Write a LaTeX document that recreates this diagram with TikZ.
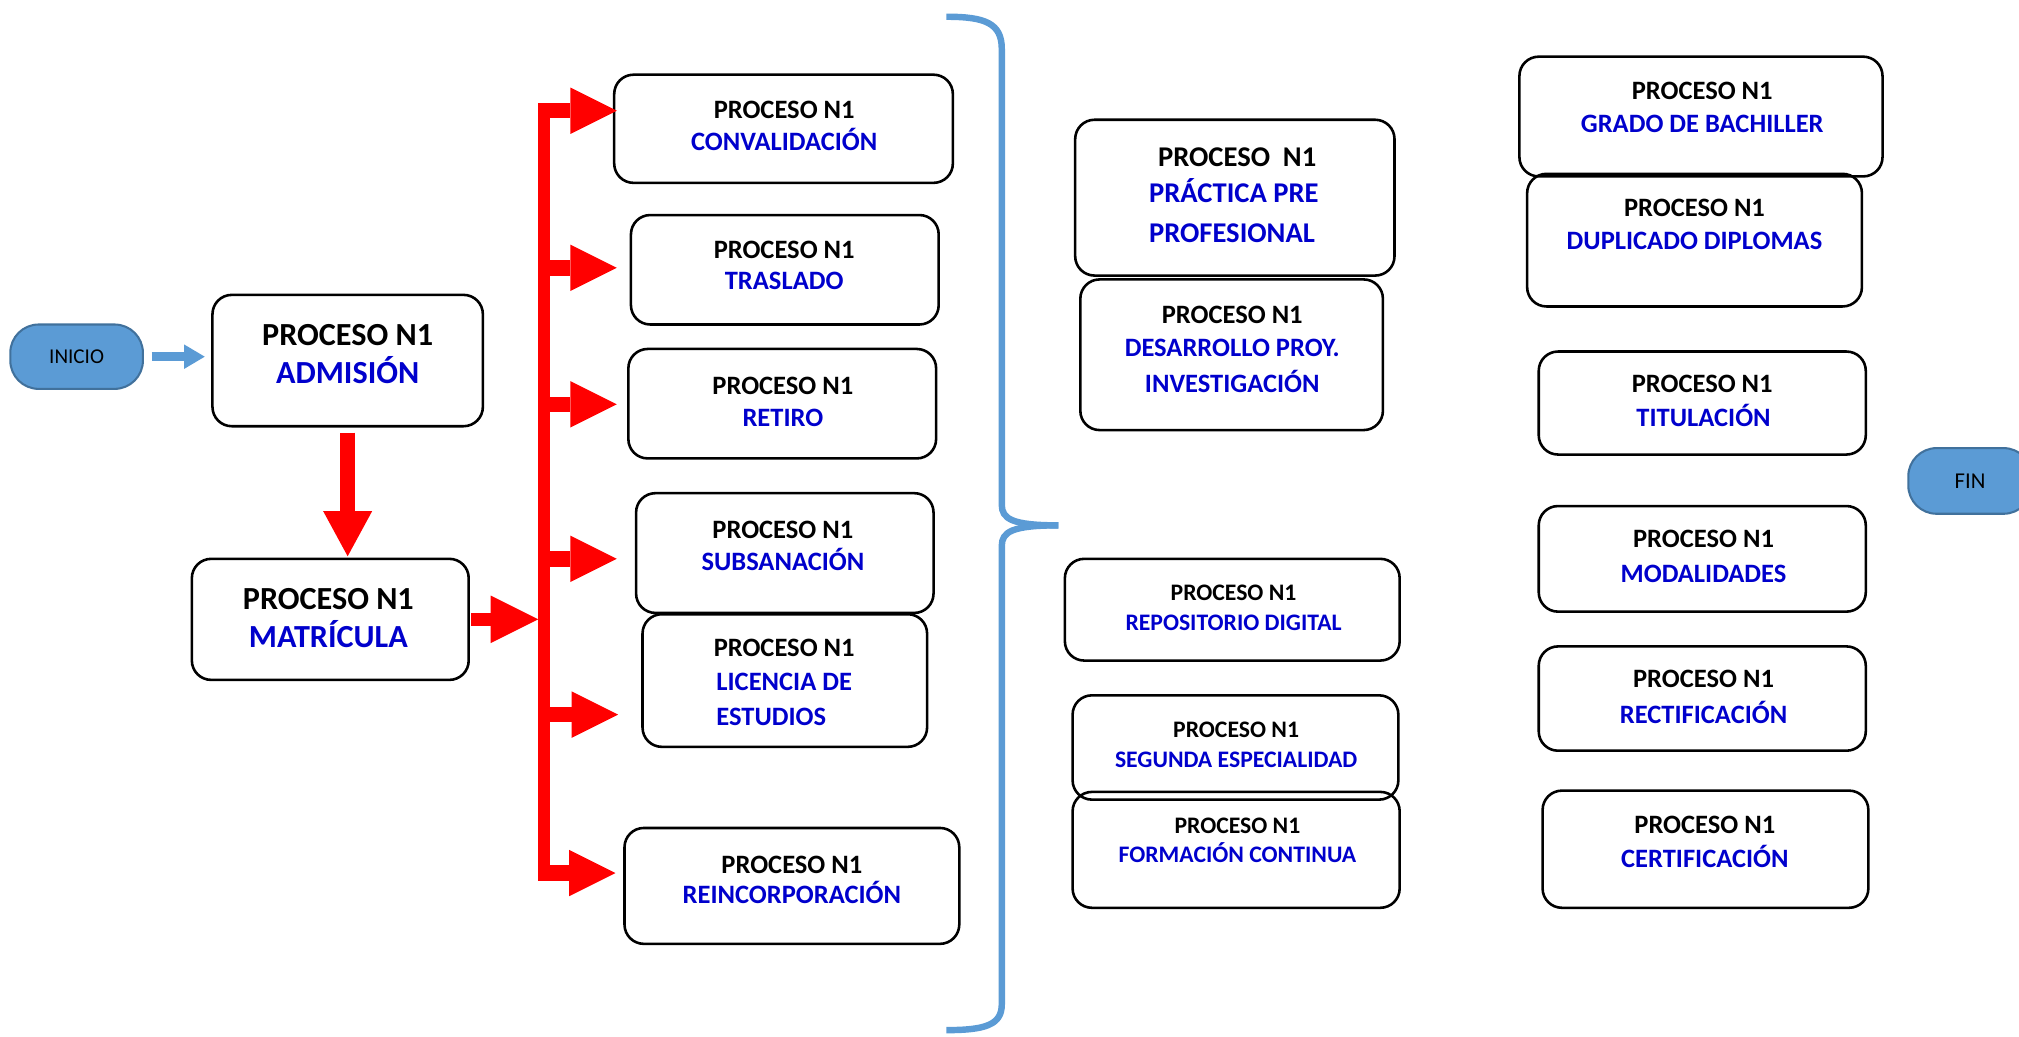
\documentclass[tikz,border=0pt]{standalone}
\usepackage{fontspec}
\setmainfont{Carlito}
\usetikzlibrary{arrows.meta}
\definecolor{tblue}{RGB}{0,0,204}
\definecolor{sblue}{RGB}{91,155,213}
\definecolor{sborder}{RGB}{65,113,156}
\definecolor{ared}{RGB}{255,0,0}
\newcommand\procbox[5]{\node[pbox,minimum width={(#4-#2)*0.5pt},minimum height={(#5-#3)*0.5pt}] (#1) at ({(#2+#4)/2},{(#3+#5)/2}) {};}
\tikzset{
  pbox/.style={draw=black, line width=1pt, rounded corners=7.5pt, inner sep=0pt},
  term/.style={draw=sborder, line width=0.8pt, fill=sblue, rounded corners=11pt, inner sep=0pt, text=black},
  tk/.style={inner sep=0pt, anchor=base, text=black},
  tb/.style={inner sep=0pt, anchor=base, text=tblue},
  fbig/.style={font=\fontsize{12.5}{15}\selectfont\bfseries},
  fmid/.style={font=\fontsize{10.3}{12.5}\selectfont\bfseries},
  fpra/.style={font=\fontsize{11.1}{13}\selectfont\bfseries},
  fsml/.style={font=\fontsize{9.2}{11}\selectfont\bfseries},
  bluearrow/.style={draw=sblue, line width=3.5pt, -{Triangle[width=9.5pt,length=8pt,line width=0pt]}},
  downarrow/.style={draw=ared, line width=6pt, -{Triangle[width=19pt,length=17.5pt,line width=0pt]}},
  matarrow/.style={draw=ared, line width=5pt, -{Triangle[width=18.5pt,length=18.5pt,line width=0pt]}},
  brancharrow/.style={draw=ared, line width=6pt, -{Triangle[width=18pt,length=18pt,line width=0pt]}},
  redbar/.style={draw=ared, line width=4.5pt},
  bracestyle/.style={draw=sblue, line width=2.5pt}
}
\begin{document}
\begin{tikzpicture}[x=0.5pt,y=-0.5pt]
\useasboundingbox (0,0) rectangle (1568,804.6);

% terminals
\node[term, font=\fontsize{8.2}{10}\selectfont, minimum width=51.5pt, minimum height=25pt] (inicio) at (59.5,277) {INICIO};
\node[term, font=\fontsize{8.8}{10}\selectfont, minimum width=48pt, minimum height=25.5pt] (fin) at (1530,373.5) {FIN};

% boxes
\procbox{adm}{165}{229}{375}{331}
\procbox{mat}{149}{434}{364}{528}
\procbox{conv}{477}{58}{740}{142}
\procbox{tras}{490}{167}{729}{252}
\procbox{ret}{488}{271}{727}{356}
\procbox{subs}{494}{383}{725}{476}
\procbox{lic}{499}{477}{720}{580}
\procbox{reinc}{485}{643}{745}{733}
\procbox{prac}{835}{93}{1083}{214}
\procbox{des}{839}{217}{1074}{334}
\procbox{repo}{827}{434}{1087}{513}
\procbox{seg}{833}{540}{1086}{621}
\procbox{form}{833}{615}{1087}{705}
\procbox{grado}{1180}{44}{1462}{137}
\procbox{dup}{1186}{135}{1446}{238}
\procbox{tit}{1195}{273}{1449}{353}
\procbox{mod}{1195}{393}{1449}{475}
\procbox{rect}{1195}{502}{1449}{583}
\procbox{cert}{1198}{614}{1451}{705}

% texts
\node[tk,fbig] (admA) at (270,268) {PROCESO N1};
\node[tb,fbig] (admB) at (270,297.5) {ADMISIÓN};
\node[tk,fbig] (matA) at (255,473) {PROCESO N1};
\node[tb,fbig] (matB) at (255,503) {MATRÍCULA};

\node[tk,fmid] (convA) at (609,92) {PROCESO N1};
\node[tb,fmid] (convB) at (609,116.5) {CONVALIDACIÓN};
\node[tk,fmid] (trasA) at (609,200.6) {PROCESO N1};
\node[tb,fmid] (trasB) at (609,225) {TRASLADO};
\node[tk,fmid] (retA) at (608,306) {PROCESO N1};
\node[tb,fmid] (retB) at (608,331) {RETIRO};
\node[tk,fmid] (subsA) at (608,418) {PROCESO N1};
\node[tb,fmid] (subsB) at (608,442.7) {SUBSANACIÓN};
\node[tk,fmid] (licA) at (609,510) {PROCESO N1};
\node[tb,fmid,anchor=base west] (licB) at (556,536.6) {LICENCIA DE};
\node[tb,fmid,anchor=base west] (licC) at (556,563.5) {ESTUDIOS};
\node[tk,fmid] (reincA) at (615,678) {PROCESO N1};
\node[tb,fmid] (reincB) at (615,702) {REINCORPORACIÓN};

\node[tk,fpra,anchor=base west] (pracA) at (899,129.5) {PROCESO\ \ N1};
\node[tb,fpra,anchor=base west] (pracB) at (892,157) {PRÁCTICA PRE};
\node[tb,fpra,anchor=base west] (pracC) at (892,188) {PROFESIONAL};
\node[tk,fmid] (desA) at (957,251) {PROCESO N1};
\node[tb,fmid] (desB) at (957,276.5) {DESARROLLO PROY.};
\node[tb,fmid] (desC) at (957,304.6) {INVESTIGACIÓN};
\node[tk,fsml] (repoA) at (958,466.6) {PROCESO N1};
\node[tb,fsml] (repoB) at (958,489.7) {REPOSITORIO DIGITAL};
\node[tk,fsml] (segA) at (960,573) {PROCESO N1};
\node[tb,fsml] (segB) at (960,596) {SEGUNDA ESPECIALIDAD};
\node[tk,fsml] (formA) at (961,647) {PROCESO N1};
\node[tb,fsml] (formB) at (961,670) {FORMACIÓN CONTINUA};

\node[tk,fmid] (gradoA) at (1322,77) {PROCESO N1};
\node[tb,fmid] (gradoB) at (1322,103) {GRADO DE BACHILLER};
\node[tk,fmid] (dupA) at (1316,168) {PROCESO N1};
\node[tb,fmid] (dupB) at (1316,193.6) {DUPLICADO DIPLOMAS};
\node[tk,fmid] (titA) at (1322,304.5) {PROCESO N1};
\node[tb,fmid] (titB) at (1323,331) {TITULACIÓN};
\node[tk,fmid] (modA) at (1323,425.5) {PROCESO N1};
\node[tb,fmid] (modB) at (1323,452) {MODALIDADES};
\node[tk,fmid] (rectA) at (1323,534) {PROCESO N1};
\node[tb,fmid] (rectB) at (1323,561.5) {RECTIFICACIÓN};
\node[tk,fmid] (certA) at (1324,647) {PROCESO N1};
\node[tb,fmid] (certB) at (1324,673.7) {CERTIFICACIÓN};

% connectors
\draw[bluearrow, shorten <=3pt, shorten >=2.5pt] (inicio.east) -- (inicio.east -| adm.west);
\draw[downarrow, shorten <=2pt, shorten >=0.5pt] (adm.south) -- (adm.south |- mat.north);

\coordinate (bartop) at (422.5,81);
\coordinate (barbot) at (422.5,683);
\draw[redbar] (bartop) -- (barbot);
\draw[matarrow, shorten <=0.5pt, shorten >=2.25pt] (mat.east) -- (mat.east -| bartop);

\coordinate (b1) at (418,86);  \coordinate (e1) at (479,86);
\coordinate (b2) at (420,208); \coordinate (e2) at (479,208);
\coordinate (b3) at (420,314); \coordinate (e3) at (479,314);
\coordinate (b4) at (420,434); \coordinate (e4) at (479,434);
\coordinate (b5) at (420,555); \coordinate (e5) at (480,555);
\coordinate (b6) at (418,678); \coordinate (e6) at (478,678);
\draw[brancharrow] (b1) -- (e1);
\draw[brancharrow] (b2) -- (e2);
\draw[brancharrow] (b3) -- (e3);
\draw[brancharrow] (b4) -- (e4);
\draw[brancharrow] (b5) -- (e5);
\draw[brancharrow] (b6) -- (e6);

% brace
\coordinate (brtop) at (735,13);
\coordinate (brtip) at (822,408);
\coordinate (brbot) at (735,800);
\draw[bracestyle] (brtop) .. controls (765,13) and (778,18) .. (778,38) -- (778,392)
  .. controls (778,403) and (786,408) .. (brtip);
\draw[bracestyle] (brtip) .. controls (786,408) and (778,413) .. (778,424) -- (778,780)
  .. controls (778,796) and (765,800) .. (brbot);
\end{tikzpicture}
\end{document}
